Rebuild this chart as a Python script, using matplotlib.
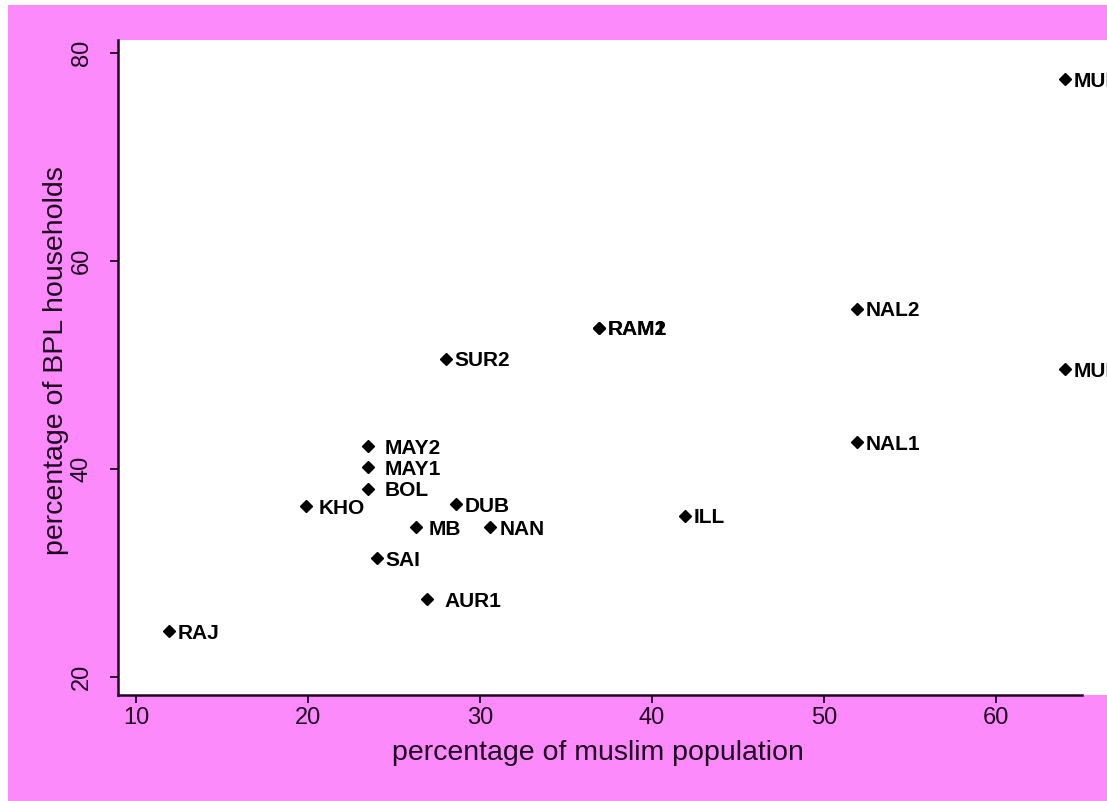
import matplotlib
matplotlib.use("Agg")
import matplotlib.pyplot as plt
from matplotlib.patches import Rectangle

# districts / blocks
names = ["MUR2", "MUR1", "NAL2", "NAL1", "RAM1", "RAM2", "SUR2", "MAY2", "MAY1",
         "BOL", "KHO", "DUB", "MB", "NAN", "ILL", "SAI", "AUR1", "RAJ"]
muslim = [64.0, 64.0, 51.9, 51.9, 36.9, 36.9, 28.0, 23.5, 23.5,
          23.5, 19.9, 28.6, 26.3, 30.6, 41.9, 24.0, 26.9, 11.9]
bpl = [77.5, 49.6, 55.4, 42.6, 53.6, 53.6, 50.6, 42.2, 40.2,
       38.1, 36.4, 36.6, 34.4, 34.4, 35.5, 31.4, 27.5, 24.4]

xticks = [10, 20, 30, 40, 50, 60]
yticks = [20, 40, 60, 80]

pink = "#fc8afa"
ink = "#1e0620"
fam = ["Liberation Sans", "DejaVu Sans"]

W, H = 1107, 801
fig = plt.figure(figsize=(W / 100, H / 100), dpi=100)
fig.patch.set_facecolor(pink)
# thin white strips along the top and left edge of the scan
fig.add_artist(Rectangle((0, (H - 5) / H), 1, 5 / H, transform=fig.transFigure,
                         facecolor="white", edgecolor="none"))
fig.add_artist(Rectangle((0, 0), 8 / W, 1, transform=fig.transFigure,
                         facecolor="white", edgecolor="none"))

# plot region runs past the right edge of the picture
ax = fig.add_axes([118 / W, (H - 695) / H, (1130 - 118) / W, (695 - 40) / H])
ax.set_facecolor("white")
ax.set_xlim(8.95, 67.8)
ax.set_ylim(18.27, 81.25)

ax.plot(muslim, bpl, linestyle="none", marker="D", markersize=6.5,
        color="black", clip_on=False)

gap = {"MAY2": 16, "MAY1": 16, "BOL": 16, "AUR1": 18, "MB": 12, "KHO": 12}
for n, x, y in zip(names, muslim, bpl):
    ax.annotate(n, (x, y), xytext=(gap.get(n, 9) * 0.72, -1.5), textcoords="offset points",
                ha="left", va="center", fontsize=15, fontweight="bold",
                family=fam, color="black", annotation_clip=False)

for s in ["top", "right"]:
    ax.spines[s].set_visible(False)
ax.spines["bottom"].set_bounds(8.95, 65.0)
for s in ["left", "bottom"]:
    ax.spines[s].set_color(ink)
    ax.spines[s].set_linewidth(1.8)

ax.set_xticks(xticks)
ax.set_yticks(yticks)
ax.set_yticklabels([str(v) for v in yticks], rotation=90, va="center")
ax.tick_params(direction="out", length=6, width=1.3, color=ink, labelcolor=ink,
               labelsize=17)
ax.tick_params(axis="x", pad=3)
ax.tick_params(axis="y", pad=12)
for t in ax.get_xticklabels() + ax.get_yticklabels():
    t.set_family(fam)

ax.set_xlabel("percentage of muslim population", fontsize=20.5, color=ink, family=fam)
ax.set_ylabel("percentage of BPL households", fontsize=20.5, color=ink, family=fam)
ax.xaxis.set_label_coords(0.474, -0.069)
ax.yaxis.set_label_coords(-0.048, 0.51)

fig.savefig("out.png", dpi=100, facecolor=fig.get_facecolor())
